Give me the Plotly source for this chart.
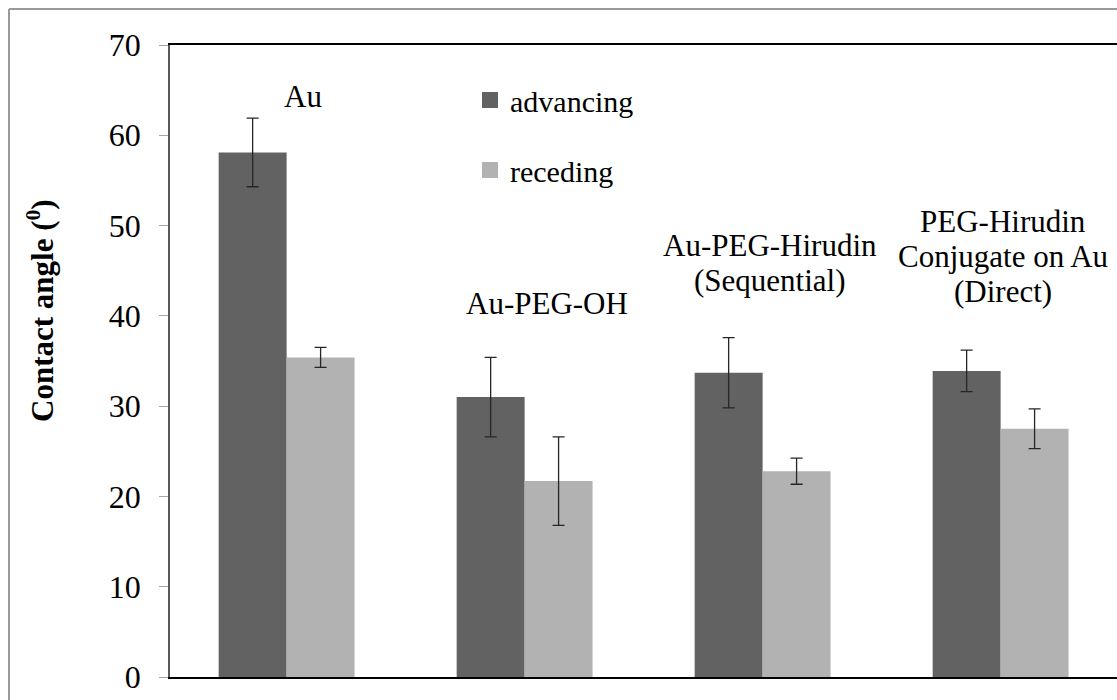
import plotly.graph_objects as go

categories = ["Au", "Au-PEG-OH", "Au-PEG-Hirudin (Sequential)", "PEG-Hirudin Conjugate on Au (Direct)"]
advancing = [58.1, 31.0, 33.7, 33.9]
advancing_err = [3.8, 4.4, 3.9, 2.3]
receding = [35.4, 21.7, 22.8, 27.5]
receding_err = [1.1, 4.9, 1.45, 2.2]
y_ticks = [0, 10, 20, 30, 40, 50, 60, 70]

# group label text lines, with their placement (x in category units, y of first line in data units)
group_label_lines = [["Au"], ["Au-PEG-OH"], ["Au-PEG-Hirudin", "(Sequential)"],
                     ["PEG-Hirudin", "Conjugate on Au", "(Direct)"]]
label_x = [0.069, 1.094, 2.031, 3.01]
label_y = [64.3, 41.4, 47.78, 50.44]
LINE_STEP_PX = 35

FONT = "Liberation Serif"
ADV_COLOR = "#626262"
REC_COLOR = "#b2b2b2"
ERR_COLOR = "#262626"

fig = go.Figure()
fig.add_trace(go.Bar(
    x=categories, y=advancing, name="advancing", marker=dict(color=ADV_COLOR, line=dict(width=0)),
    error_y=dict(type="data", array=advancing_err, visible=True, color=ERR_COLOR, thickness=1.3, width=6),
    showlegend=False,
))
fig.add_trace(go.Bar(
    x=categories, y=receding, name="receding", marker=dict(color=REC_COLOR, line=dict(width=0)),
    error_y=dict(type="data", array=receding_err, visible=True, color=ERR_COLOR, thickness=1.3, width=6),
    showlegend=False,
))
# legend entries
fig.add_trace(go.Scatter(x=[None], y=[None], mode="markers", name="advancing", legendgroup="a",
                         marker=dict(symbol="square", size=18, color=ADV_COLOR)))
fig.add_trace(go.Scatter(x=[None], y=[None], mode="markers", name="receding", legendgroup="r",
                         marker=dict(symbol="square", size=18, color=REC_COLOR)))

for lx, ly, lines in zip(label_x, label_y, group_label_lines):
    for i, t in enumerate(lines):
        fig.add_annotation(x=lx, y=ly, xref="x", yref="y", text=t, showarrow=False,
                           xanchor="center", yanchor="middle", yshift=-i * LINE_STEP_PX,
                           font=dict(family=FONT, size=31, color="black"), align="center")

fig.add_annotation(x=(40 - 170) / 947, y=(677 - 311) / 632, xref="paper", yref="paper",
                   xanchor="center", yanchor="middle",
                   text="<b>Contact angle (<sup>0</sup>)</b>", textangle=-90, showarrow=False,
                   font=dict(family=FONT, size=31, color="black"))

# outer chart border (left and top)
fig.add_shape(type="line", xref="paper", yref="paper", x0=(9 - 170) / 947, x1=(9 - 170) / 947,
              y0=(677 - 9) / 632, y1=(677 - 705) / 632, line=dict(color="#9a9a9a", width=2))
fig.add_shape(type="line", xref="paper", yref="paper", x0=(9 - 170) / 947, x1=1.01,
              y0=(677 - 9) / 632, y1=(677 - 9) / 632, line=dict(color="#9a9a9a", width=2))

fig.update_layout(
    width=1117, height=700,
    margin=dict(l=170, r=0, t=45, b=23),
    paper_bgcolor="white", plot_bgcolor="white",
    barmode="group", bargap=0.429, bargroupgap=0,
    font=dict(family=FONT, size=30, color="black"),
    legend=dict(x=(470 - 170) / 947, y=(677 - 74) / 632, xanchor="left", yanchor="top",
                font=dict(family=FONT, size=30), tracegroupgap=28, bgcolor="rgba(0,0,0,0)"),
    xaxis=dict(range=[-0.49, 3.489], showticklabels=False, ticks="", showgrid=False,
               showline=True, linecolor="black", linewidth=2, mirror=True, zeroline=False),
    yaxis=dict(range=[0, 70], tickvals=y_ticks, showgrid=False, zeroline=False,
               showline=True, linecolor="#595959", linewidth=1.5,
               ticks="outside", ticklen=9, tickcolor="#a6a6a6", tickwidth=1,
               ticklabelstandoff=12, tickfont=dict(family=FONT, size=32, color="black")),
)

fig.write_html("out.html")
